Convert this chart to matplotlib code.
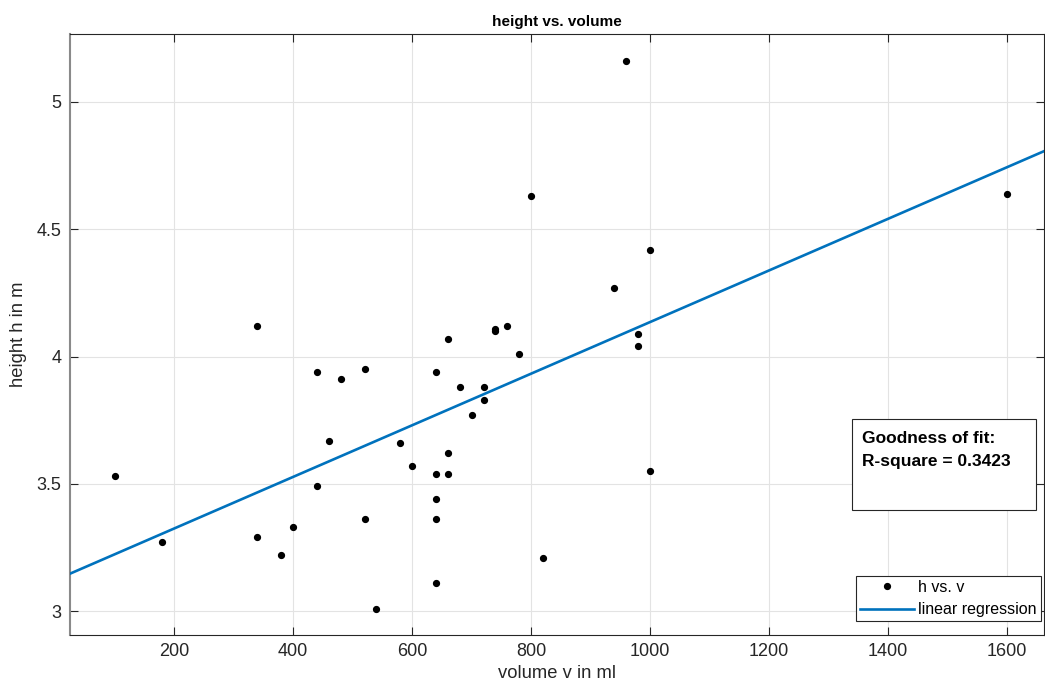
import numpy as np
import matplotlib
matplotlib.use("Agg")
import matplotlib.pyplot as plt
import matplotlib.patches as patches

plt.rcParams["font.family"] = ["Liberation Sans", "DejaVu Sans"]

# volume v in ml / height h in m
volume = [100, 180, 340, 340, 380, 400, 440, 440, 460, 480,
          520, 520, 540, 580, 600, 640, 640, 640, 640, 640,
          660, 660, 660, 680, 700, 720, 720, 740, 740, 760,
          780, 800, 820, 940, 960, 980, 980, 1000, 1000, 1600]
height = [3.53, 3.27, 4.12, 3.29, 3.22, 3.33, 3.94, 3.49, 3.67, 3.91,
          3.95, 3.36, 3.01, 3.66, 3.57, 3.94, 3.54, 3.44, 3.36, 3.11,
          4.07, 3.62, 3.54, 3.88, 3.77, 3.88, 3.83, 4.11, 4.10, 4.12,
          4.01, 4.63, 3.21, 4.27, 5.16, 4.09, 4.04, 4.42, 3.55, 4.64]
x_ticks = [200, 400, 600, 800, 1000, 1200, 1400, 1600]
y_ticks = [3, 3.5, 4, 4.5, 5]
r_square = 0.3423

x_lim = (25, 1662)
y_lim = (2.906, 5.267)
blue = "#0072BD"

fig = plt.figure(figsize=(10.45, 6.9), dpi=100)
ax = fig.add_axes([0.067, 0.0797, 0.932, 0.871])

slope, intercept = np.polyfit(volume, height, 1)
xs = np.array(x_lim)

ax.plot(volume, height, "o", color="black", markersize=4.2,
        label="h vs. v", zorder=4)
ax.plot(xs, slope * xs + intercept, "-", color=blue, linewidth=1.9,
        label="linear regression", zorder=3)

ax.set_xlim(*x_lim)
ax.set_ylim(*y_lim)
ax.set_xticks(x_ticks)
ax.set_yticks(y_ticks)
ax.set_yticklabels(["3", "3.5", "4", "4.5", "5"])
ax.tick_params(direction="in", length=6, width=0.8, top=True, right=True,
               labelsize=13, colors="#262626", pad=6)
ax.grid(True, color="#e3e3e3", linewidth=0.8, zorder=0)
ax.set_axisbelow(True)
for side in ["top", "bottom", "right"]:
    ax.spines[side].set_color("#262626")
    ax.spines[side].set_linewidth(0.8)
ax.spines["left"].set_color("#8a8a8a")
ax.spines["left"].set_linewidth(1.5)

ax.set_title("height vs. volume", fontsize=11, fontweight="bold", pad=6)
ax.set_xlabel("volume v in ml", fontsize=13.2, color="#262626", labelpad=3)
ax.set_ylabel("height h in m", fontsize=13.2, color="#262626", labelpad=7)

# Goodness-of-fit box
ax.add_patch(patches.Rectangle((0.803, 0.208), 0.189, 0.151,
                               transform=ax.transAxes, facecolor="white",
                               edgecolor="#262626", linewidth=0.8, zorder=6))
ax.text(0.813, 0.339, f"Goodness of fit:\nR-square = {r_square:.4f}",
        transform=ax.transAxes, ha="left", va="top", fontsize=12.5,
        fontweight="bold", linespacing=1.62, zorder=7)

leg = ax.legend(loc="lower right", bbox_to_anchor=(0.9965, 0.023),
                fontsize=11.5, fancybox=False, framealpha=1,
                edgecolor="#262626", borderpad=0.25, handlelength=3.4,
                handletextpad=0.25, labelspacing=0.45, borderaxespad=0)
leg.get_frame().set_linewidth(0.8)

fig.savefig("out.png", dpi=100)
